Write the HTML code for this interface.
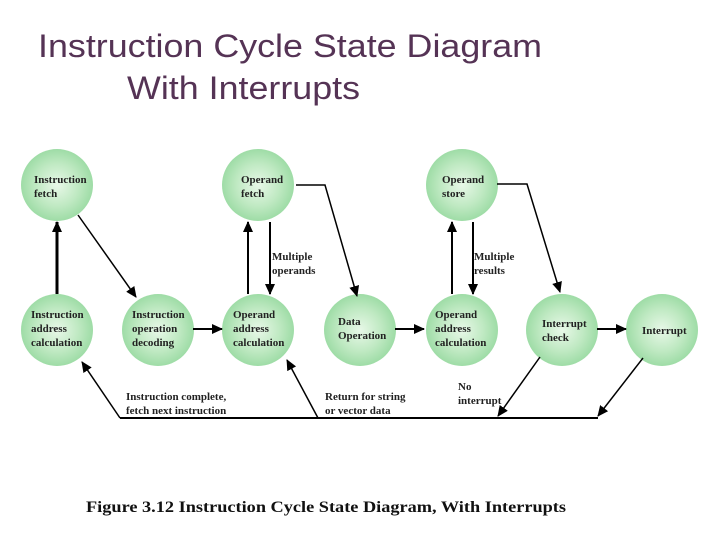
<!DOCTYPE html>
<html><head><meta charset="utf-8"><style>
html,body{margin:0;padding:0;background:#fff;}
svg{display:block}
.t{font-family:"Liberation Serif",serif;font-weight:bold;font-size:11px;fill:#222}
</style></head><body>
<svg width="720" height="540" xmlns="http://www.w3.org/2000/svg">
<defs>
<radialGradient id="g" cx="50%" cy="50%" r="50%">
<stop offset="0" stop-color="#e8f8e8"/><stop offset="0.6" stop-color="#bfe9c2"/><stop offset="1" stop-color="#9edca6"/>
</radialGradient>
<marker id="a" markerWidth="11" markerHeight="10" refX="10" refY="5" orient="auto" markerUnits="userSpaceOnUse"><path d="M0,0 L11,5 L0,10 z" fill="#000"/></marker>
</defs>
<g font-family="Liberation Sans, sans-serif" font-size="32" fill="#553355">
<text x="38" y="57" textLength="504" lengthAdjust="spacingAndGlyphs">Instruction Cycle State Diagram</text>
<text x="127" y="99" textLength="233" lengthAdjust="spacingAndGlyphs">With Interrupts</text>
</g>
<g fill="url(#g)">
<circle cx="57" cy="185" r="36"/><circle cx="258" cy="185" r="36"/><circle cx="462" cy="185" r="36"/>
<circle cx="57" cy="330" r="36"/><circle cx="158" cy="330" r="36"/><circle cx="258" cy="330" r="36"/>
<circle cx="360" cy="330" r="36"/><circle cx="462" cy="330" r="36"/><circle cx="562" cy="330" r="36"/><circle cx="662" cy="330" r="36"/>
</g>
<g stroke="#000" fill="none" marker-end="url(#a)">
<line x1="57" y1="294" x2="57" y2="222" stroke-width="3"/>
<line x1="78" y1="215" x2="136" y2="297" stroke-width="1.5"/>
<line x1="248" y1="294" x2="248" y2="222" stroke-width="2"/>
<line x1="270" y1="222" x2="270" y2="294" stroke-width="2"/>
<line x1="452" y1="294" x2="452" y2="222" stroke-width="2"/>
<line x1="473" y1="222" x2="473" y2="294" stroke-width="2"/>
<polyline points="296,185 325,185 357,296" stroke-width="1.5"/>
<polyline points="497,184 527,184 560,292" stroke-width="1.5"/>
<line x1="193" y1="329" x2="222" y2="329" stroke-width="2"/>
<line x1="395" y1="329" x2="424" y2="329" stroke-width="2"/>
<line x1="597" y1="329" x2="626" y2="329" stroke-width="2"/>
<line x1="120" y1="418" x2="82" y2="362" stroke-width="1.5"/>
<line x1="318" y1="418" x2="287" y2="360" stroke-width="1.5"/>
<line x1="540" y1="357" x2="498" y2="416" stroke-width="1.5"/>
<line x1="643" y1="358" x2="598" y2="416" stroke-width="1.5"/>
</g>
<line x1="120" y1="418" x2="598" y2="418" stroke="#000" stroke-width="2"/>
<g class="t">
<text x="34" y="183">Instruction</text><text x="34" y="197">fetch</text>
<text x="241" y="183">Operand</text><text x="241" y="197">fetch</text>
<text x="442" y="183">Operand</text><text x="442" y="197">store</text>
<text x="31" y="318">Instruction</text><text x="31" y="332">address</text><text x="31" y="346">calculation</text>
<text x="132" y="318">Instruction</text><text x="132" y="332">operation</text><text x="132" y="346">decoding</text>
<text x="233" y="318">Operand</text><text x="233" y="332">address</text><text x="233" y="346">calculation</text>
<text x="338" y="325">Data</text><text x="338" y="339">Operation</text>
<text x="435" y="318">Operand</text><text x="435" y="332">address</text><text x="435" y="346">calculation</text>
<text x="542" y="327">Interrupt</text><text x="542" y="341">check</text>
<text x="642" y="334">Interrupt</text>
<text x="272" y="260">Multiple</text><text x="272" y="274">operands</text>
<text x="474" y="260">Multiple</text><text x="474" y="274">results</text>
<text x="126" y="400">Instruction complete,</text><text x="126" y="414">fetch next instruction</text>
<text x="325" y="400">Return for string</text><text x="325" y="414">or vector data</text>
<text x="458" y="390">No</text><text x="458" y="404">interrupt</text>
</g>
<text x="86" y="512" font-family="Liberation Serif, serif" font-weight="bold" font-size="16" fill="#111" textLength="480" lengthAdjust="spacingAndGlyphs">Figure 3.12   Instruction Cycle State Diagram, With Interrupts</text>
</svg>
</body></html>
